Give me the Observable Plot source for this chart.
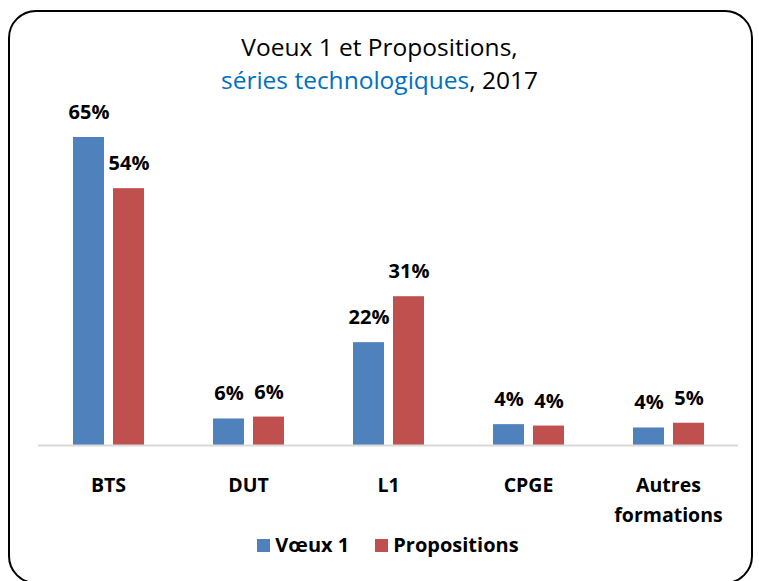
<!DOCTYPE html>
<html>
<head>
<meta charset="utf-8">
<script src="https://cdn.jsdelivr.net/npm/d3@7"></script>
<script src="https://cdn.jsdelivr.net/npm/@observablehq/plot@0.6"></script>
<style>
  body { margin: 0; background: #fff; }
  #wrap { position: relative; width: 759px; height: 581px; overflow: hidden; font-family: "Open Sans", Lato, sans-serif; color: #000; }
  #frame { position: absolute; left: 8px; top: 10px; width: 741px; height: 570px; border: 2px solid #000; border-radius: 28px; box-sizing: content-box; }
  #title { position: absolute; left: 0; top: 29.5px; width: 759px; text-align: center; font-size: 24.5px; line-height: 33.5px; font-weight: 400; }
  #title .blue { color: #0070C0; }
  #chart { position: absolute; left: 0; top: 95px; }
  #legend { position: absolute; left: 37px; width: 702px; top: 535px; display: flex; justify-content: center; align-items: center; font-size: 20px; line-height: 20px; font-weight: 700; }
  #legend .item { display: flex; align-items: center; margin: 0 13px; }
  #legend .sw { width: 13px; height: 13px; margin-right: 5px; }
</style>
</head>
<body>
<div id="wrap">
  <div id="frame"></div>
  <div id="title">Voeux 1 et Propositions,<br><span class="blue">séries technologiques</span>, 2017</div>
  <div id="chart"></div>
  <div id="legend"></div>
</div>
<script>
const categories = ["BTS", "DUT", "L1", "CPGE", "Autres formations"];
const series = ["Vœux 1", "Propositions"];
const colors = ["#4F81BD", "#C0504D"];
const voeux1 = [65, 5.6, 21.7, 4.4, 3.7];
const propositions = [54.2, 6.0, 31.4, 4.1, 4.7];

const data = [];
categories.forEach((c, i) => {
  data.push({category: c, series: series[0], value: voeux1[i]});
  data.push({category: c, series: series[1], value: propositions[i]});
});

const chart = Plot.plot({
  width: 759,
  height: 435,
  marginLeft: 37,
  marginRight: 20,
  marginTop: 18.3,
  marginBottom: 85,
  style: {fontFamily: "'Open Sans', Lato, sans-serif", background: "transparent", overflow: "visible"},
  fx: {domain: categories, padding: 0, label: null},
  x: {domain: series, paddingInner: 0.228, paddingOuter: 0.85, axis: null},
  y: {domain: [0, 70], axis: null},
  color: {domain: series, range: colors},
  marks: [
    Plot.barY(data, {fx: "category", x: "series", y: "value", fill: "series"}),
    Plot.ruleY([0], {stroke: "#D9D9D9", strokeWidth: 2}),
    Plot.text(data, {fx: "category", x: "series", y: "value", text: d => Math.round(d.value) + "%",
      lineAnchor: "bottom", dy: -18.5, fontSize: 20, fontWeight: "bold", fill: "#000"}),
    Plot.axisFx({anchor: "bottom", tickSize: 0, tickPadding: 25, label: null,
      tickFormat: d => d.replace(" ", "\n"), fontSize: 19.5, fontWeight: "bold", lineHeight: 1.54, fill: "#000"})
  ]
});
document.getElementById("chart").appendChild(chart);

const legend = document.getElementById("legend");
series.forEach((s, i) => {
  const item = document.createElement("div");
  item.className = "item";
  const sw = document.createElement("span");
  sw.className = "sw";
  sw.style.background = colors[i];
  const t = document.createElement("span");
  t.textContent = s;
  item.appendChild(sw);
  item.appendChild(t);
  legend.appendChild(item);
});
</script>
</body>
</html>
